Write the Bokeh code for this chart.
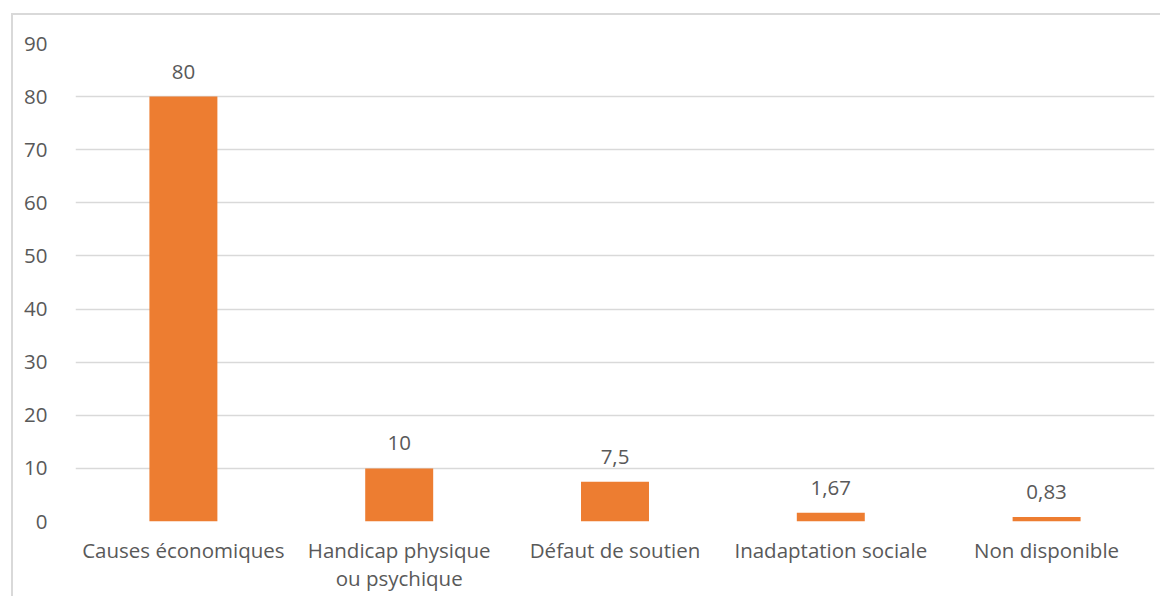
from bokeh.plotting import figure
from bokeh.models import ColumnDataSource, Range1d, FactorRange, LabelSet
from bokeh.core.properties import value
from bokeh.embed import file_html
from bokeh.resources import INLINE

categories = ["Causes économiques", "Handicap physique\nou psychique", "Défaut de soutien",
              "Inadaptation sociale", "Non disponible"]
values = [80, 10, 7.5, 1.67, 0.83]
labels = ["80", "10", "7,5", "1,67", "0,83"]
y_ticks = [0, 10, 20, 30, 40, 50, 60, 70, 80, 90]

FONT = "Open Sans"
TXT = "#595959"

src = ColumnDataSource(dict(cat=categories, val=values, lab=labels))

p = figure(x_range=FactorRange(*categories, range_padding=0), y_range=Range1d(0, 90),
           width=1160, height=596, output_backend="svg", toolbar_location=None,
           min_border_left=75, min_border_right=6, min_border_top=43, min_border_bottom=75)
p.styles = {"box-shadow": "inset 11px 13px 0 0 #ffffff, inset 13px 15px 0 0 #d9d9d9"}
p.border_fill_color = None
p.outline_line_color = None

p.vbar(x="cat", top="val", width=0.315, source=src, color="#ED7D31", line_color=None)

p.add_layout(LabelSet(x="cat", y="val", text="lab", source=src, text_align="center",
                      text_baseline="bottom", y_offset=18, text_font=value(FONT),
                      text_font_size="20.5px", text_color=TXT))

p.yaxis.ticker = y_ticks
p.yaxis.axis_line_color = None
p.yaxis.major_tick_line_color = None
p.yaxis.minor_tick_line_color = None
p.yaxis.major_label_standoff = 22
p.xaxis.axis_line_color = None
p.xaxis.major_tick_line_color = None
p.xaxis.major_label_standoff = 8
p.xaxis.major_label_text_line_height = 1.0
for ax in (p.xaxis, p.yaxis):
    ax.major_label_text_font = FONT
    ax.major_label_text_font_size = "20.5px"
    ax.major_label_text_color = TXT

p.xgrid.grid_line_color = None
p.ygrid.grid_line_color = "#d9d9d9"
p.ygrid.grid_line_width = 1.5

open("out.html", "w").write(file_html(p, INLINE))
